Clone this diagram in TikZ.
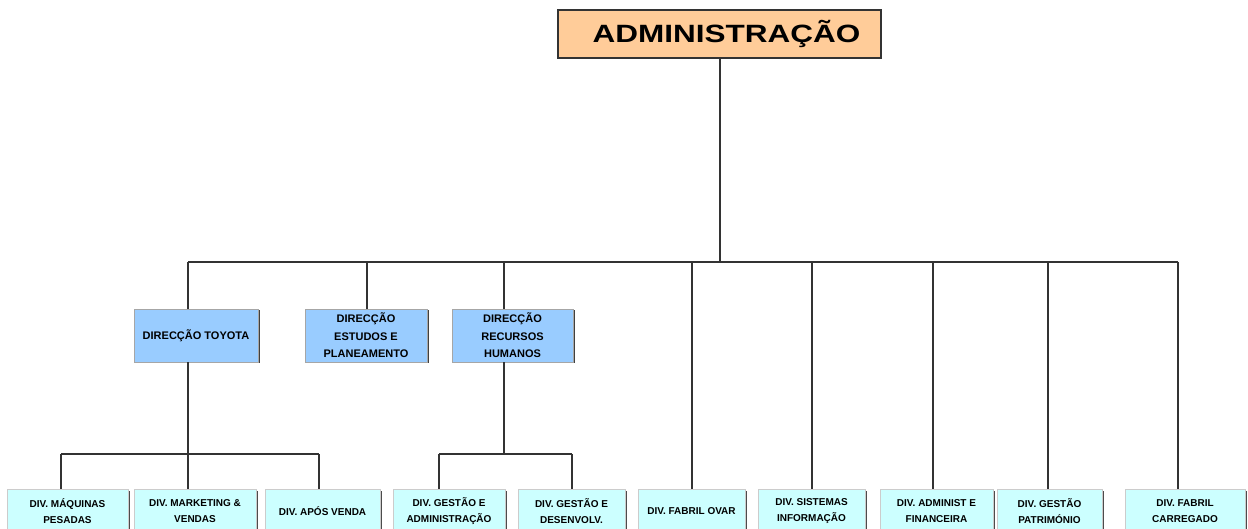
\documentclass[tikz,border=0pt]{standalone}
\usepackage{fontspec}
\setmainfont{Liberation Sans}
\usetikzlibrary{shadows}
\definecolor{topfill}{HTML}{FFCC99}
\definecolor{midfill}{HTML}{99CCFF}
\definecolor{botfill}{HTML}{CCFFFF}
\definecolor{linecol}{HTML}{333333}
\tikzset{
  topbox/.style={draw=linecol, line width=1.5pt, fill=topfill, minimum width=323pt, minimum height=48pt, inner sep=0pt,
     font=\fontsize{25}{28}\selectfont\bfseries},
  midbox/.style={draw=gray!70, line width=0.5pt, fill=midfill, minimum height=53pt, inner sep=0pt, align=center,
     font=\fontsize{11}{17.5}\selectfont\bfseries,
     drop shadow={shadow xshift=1.5pt, shadow yshift=-1.5pt, fill=black!75, opacity=1}},
  botbox/.style={draw=gray!40, line width=0.5pt, fill=botfill, minimum height=44pt, inner sep=0pt, align=center,
     font=\fontsize{10}{15.5}\selectfont\bfseries,
     drop shadow={shadow xshift=1.5pt, shadow yshift=-1.5pt, fill=black!70, opacity=1}},
  conn/.style={draw=linecol, line width=1.6pt}
}
\begin{document}
\begin{tikzpicture}[x=1pt,y=-1pt]
\path[use as bounding box] (0,0) rectangle (1248,529);
\clip (0,0) rectangle (1248,529);
% top
\node[topbox] (adm) at (719.5,34) {\hspace{14pt}\raisebox{-3pt}{\scalebox{1.26}[1]{ADMINISTRAÇÃO}}};
% middle
\node[midbox, minimum width=124pt] (toy) at (196,335.5) {DIRECÇÃO TOYOTA};
\node[midbox, minimum width=122pt] (est) at (366,335.5) {DIRECÇÃO\\ESTUDOS E\\PLANEAMENTO};
\node[midbox, minimum width=121pt] (rh) at (512.5,335.5) {DIRECÇÃO\\RECURSOS\\HUMANOS};
% bottom
\node[botbox, minimum width=121pt] (b1) at (67.5,511) {DIV. MÁQUINAS\\PESADAS};
\node[botbox, minimum width=122pt] (b2) at (195,511) {DIV. MARKETING \&\\VENDAS};
\node[botbox, minimum width=115pt] (b3) at (322.5,511) {DIV. APÓS VENDA};
\node[botbox, minimum width=112pt] (b4) at (449,511) {DIV. GESTÃO E\\ADMINISTRAÇÃO};
\node[botbox, minimum width=107pt] (b5) at (571.5,511) {DIV. GESTÃO E\\DESENVOLV.};
\node[botbox, minimum width=107pt] (b6) at (691.5,511) {DIV. FABRIL OVAR};
\node[botbox, minimum width=107pt] (b7) at (811.5,511) {DIV. SISTEMAS\\INFORMAÇÃO};
\node[botbox, minimum width=113pt] (b8) at (936.5,511) {DIV. ADMINIST E\\FINANCEIRA};
\node[botbox, minimum width=105pt] (b9) at (1049.5,511) {DIV. GESTÃO\\PATRIMÓNIO};
\node[botbox, minimum width=120pt] (b10) at (1185,511) {DIV. FABRIL\\CARREGADO};
% bus junctions
\coordinate (jm) at (720,262);
\coordinate (jtoy) at (188,262);
\coordinate (jest) at (367,262);
\coordinate (jrh) at (504,262);
\coordinate (j6) at (692,262);
\coordinate (j7) at (812,262);
\coordinate (j8) at (933,262);
\coordinate (j9) at (1048,262);
\coordinate (j10) at (1178,262);
\coordinate (st) at (188,454);
\coordinate (srh) at (504,454);
\coordinate (s1) at (61,454);
\coordinate (s3) at (319,454);
\coordinate (s4) at (439,454);
\coordinate (s5) at (572,454);
% connectors
\draw[conn] (adm.south -| jm) -- (jm);
\draw[conn] (jtoy) -- (j10);
\draw[conn] (jtoy) -- (jtoy |- toy.north);
\draw[conn] (jest) -- (jest |- est.north);
\draw[conn] (jrh) -- (jrh |- rh.north);
\draw[conn] (j6) -- (j6 |- b6.north);
\draw[conn] (j7) -- (j7 |- b7.north);
\draw[conn] (j8) -- (j8 |- b8.north);
\draw[conn] (j9) -- (j9 |- b9.north);
\draw[conn] (j10) -- (j10 |- b10.north);
\draw[conn] (st |- toy.south) -- (st);
\draw[conn] (s1) -- (s3);
\draw[conn] (s1) -- (s1 |- b1.north);
\draw[conn] (st) -- (st |- b2.north);
\draw[conn] (s3) -- (s3 |- b3.north);
\draw[conn] (srh |- rh.south) -- (srh);
\draw[conn] (s4) -- (s5);
\draw[conn] (s4) -- (s4 |- b4.north);
\draw[conn] (s5) -- (s5 |- b5.north);
\end{tikzpicture}
\end{document}
